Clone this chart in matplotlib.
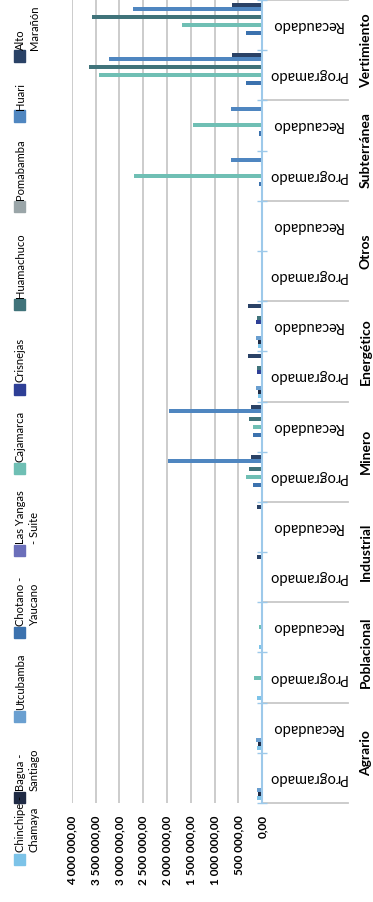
import numpy as np
import matplotlib
matplotlib.use("Agg")
import matplotlib.pyplot as plt
from matplotlib.patches import Rectangle

plt.rcParams['font.family'] = ['Lato', 'DejaVu Sans']

# categories (bottom to top in the picture)
categories = ["Agrario", "Poblacional", "Industrial", "Minero",
              "Energético", "Otros", "Subterránea", "Vertimiento"]
subcats = ["Programado", "Recaudado"]

series_names = ["Chinchipe -\nChamaya", "Bagua -\nSantiago", "Utcubamba",
                "Chotano -\nYaucano", "Las Yangas\n- Suite", "Cajamarca",
                "Crisnejas", "Huamachuco", "Pomabamba", "Huari", "Alto\nMarañón"]
colors = ["#7cc3e8", "#1f2a44", "#6a9fd0", "#3c72ae", "#6b6fba", "#6fbfb4",
          "#2e3f96", "#40737a", "#9aa5a8", "#4f86c0", "#2a4266"]

# values per series: (Prog, Rec) for each category in order above
chinchipe = [120000, 120000, 120000, 70000, 0, 0, 0, 0,
             80000, 80000, 0, 0, 0, 0, 0, 0]
bagua = [100000, 100000, 10000, 10000, 0, 0, 0, 0,
         100000, 100000, 0, 0, 0, 0, 0, 0]
utcubamba = [120000, 130000, 15000, 15000, 0, 0, 0, 0,
             140000, 140000, 0, 0, 0, 0, 0, 0]
chotano = [5000, 5000, 15000, 15000, 5000, 5000, 190000, 190000,
           0, 0, 0, 0, 60000, 60000, 350000, 340000]
las_yangas = [5000, 5000, 10000, 10000, 0, 0, 0, 0,
              0, 0, 0, 0, 0, 0, 0, 0]
cajamarca = [20000, 20000, 170000, 70000, 20000, 20000, 350000, 200000,
             10000, 10000, 30000, 10000, 2700000, 1460000, 3420000, 1680000]
crisnejas = [0, 0, 10000, 10000, 0, 0, 0, 0,
             120000, 130000, 0, 0, 0, 0, 0, 0]
huamachuco = [0, 0, 10000, 15000, 0, 0, 270000, 270000,
              120000, 120000, 0, 0, 0, 0, 3630000, 3580000]
pomabamba = [0, 0, 5000, 5000, 0, 0, 0, 0,
             20000, 10000, 0, 0, 0, 0, 0, 0]
huari = [0, 0, 0, 0, 0, 0, 1980000, 1950000,
         0, 0, 0, 0, 650000, 650000, 3210000, 2720000]
alto_maranon = [0, 0, 0, 0, 120000, 120000, 240000, 240000,
                290000, 290000, 0, 0, 0, 0, 640000, 640000]

data = [chinchipe, bagua, utcubamba, chotano, las_yangas, cajamarca,
        crisnejas, huamachuco, pomabamba, huari, alto_maranon]

W, H = 373, 902
fig = plt.figure(figsize=(W / 100, H / 100), dpi=100)
x0, x1, ytop, ybot = 71.7, 262.3, 0, 803
ax = fig.add_axes([x0 / W, 1 - ybot / H, (x1 - x0) / W, (ybot - ytop) / H])

nslots = len(categories) * 2
bw = 1 / 12.5
gap = 0.75 * bw
for j, vals in enumerate(data):
    ypos = np.arange(nslots) + gap + (j + 0.5) * bw
    ax.barh(ypos, vals, height=bw, color=colors[j], zorder=3)

ax.set_xlim(4000000, 0)
ax.set_ylim(0, nslots)
xt = np.arange(0, 4000001, 500000)
ax.set_xticks(xt)
ax.set_xticklabels([f"{v:,.2f}".replace(",", " ").replace(".", ",") for v in xt],
                   rotation=90, fontsize=8.5, fontweight='bold')
ax.tick_params(axis='x', length=0, pad=9)
ax.grid(axis='x', color='#c8c8c8', lw=1.3, zorder=0)
for s in ['top', 'bottom', 'left']:
    ax.spines[s].set_visible(False)
ax.spines['right'].set_color('#9dc9ea')
ax.spines['right'].set_linewidth(1.5)
ax.spines['right'].set_zorder(4)
ax.yaxis.tick_right()
ax.set_yticks(np.arange(nslots + 1))
ax.set_yticklabels([])
ax.tick_params(axis='y', direction='inout', length=7, color='#9dc9ea', width=1)

# multi-level category separators and labels
tr = ax.get_yaxis_transform()
sep_x = (347.7 - x0) / (x1 - x0)
for k in range(0, nslots + 1, 2):
    ax.plot([1.0, sep_x], [k, k], transform=tr, color='#c8c8c8', lw=1.3,
            clip_on=False, zorder=1)
sub_x = (306.7 - x0) / (x1 - x0)
cat_x = (366 - x0) / (x1 - x0)
for c, cat in enumerate(categories):
    for s, sub in enumerate(subcats):
        ax.text(sub_x, 2 * c + s + 0.5, sub, transform=tr, rotation=180,
                ha='center', va='center', fontsize=10.5, clip_on=False)
    ax.text(cat_x, 2 * c + 1, cat, transform=tr, rotation=90, ha='center',
            va='center', fontsize=10, fontweight='bold', clip_on=False)

# legend, drawn rotated along the left edge
marker_y = [859, 797.5, 716, 632.5, 550.5, 468.5, 389, 304, 206, 116, 56]
msz = 11
for j, name in enumerate(series_names):
    yc = marker_y[j]
    fig.add_artist(Rectangle((14 / W, 1 - (yc + msz / 2) / H), msz / W, msz / H,
                             transform=fig.transFigure, color=colors[j]))
    fig.text(15 / W, 1 - (yc - msz / 2 - 1) / H, name, rotation=90,
             rotation_mode='anchor', ha='left', va='top', fontsize=8,
             linespacing=1.3)

fig.savefig("out.png", dpi=100)
